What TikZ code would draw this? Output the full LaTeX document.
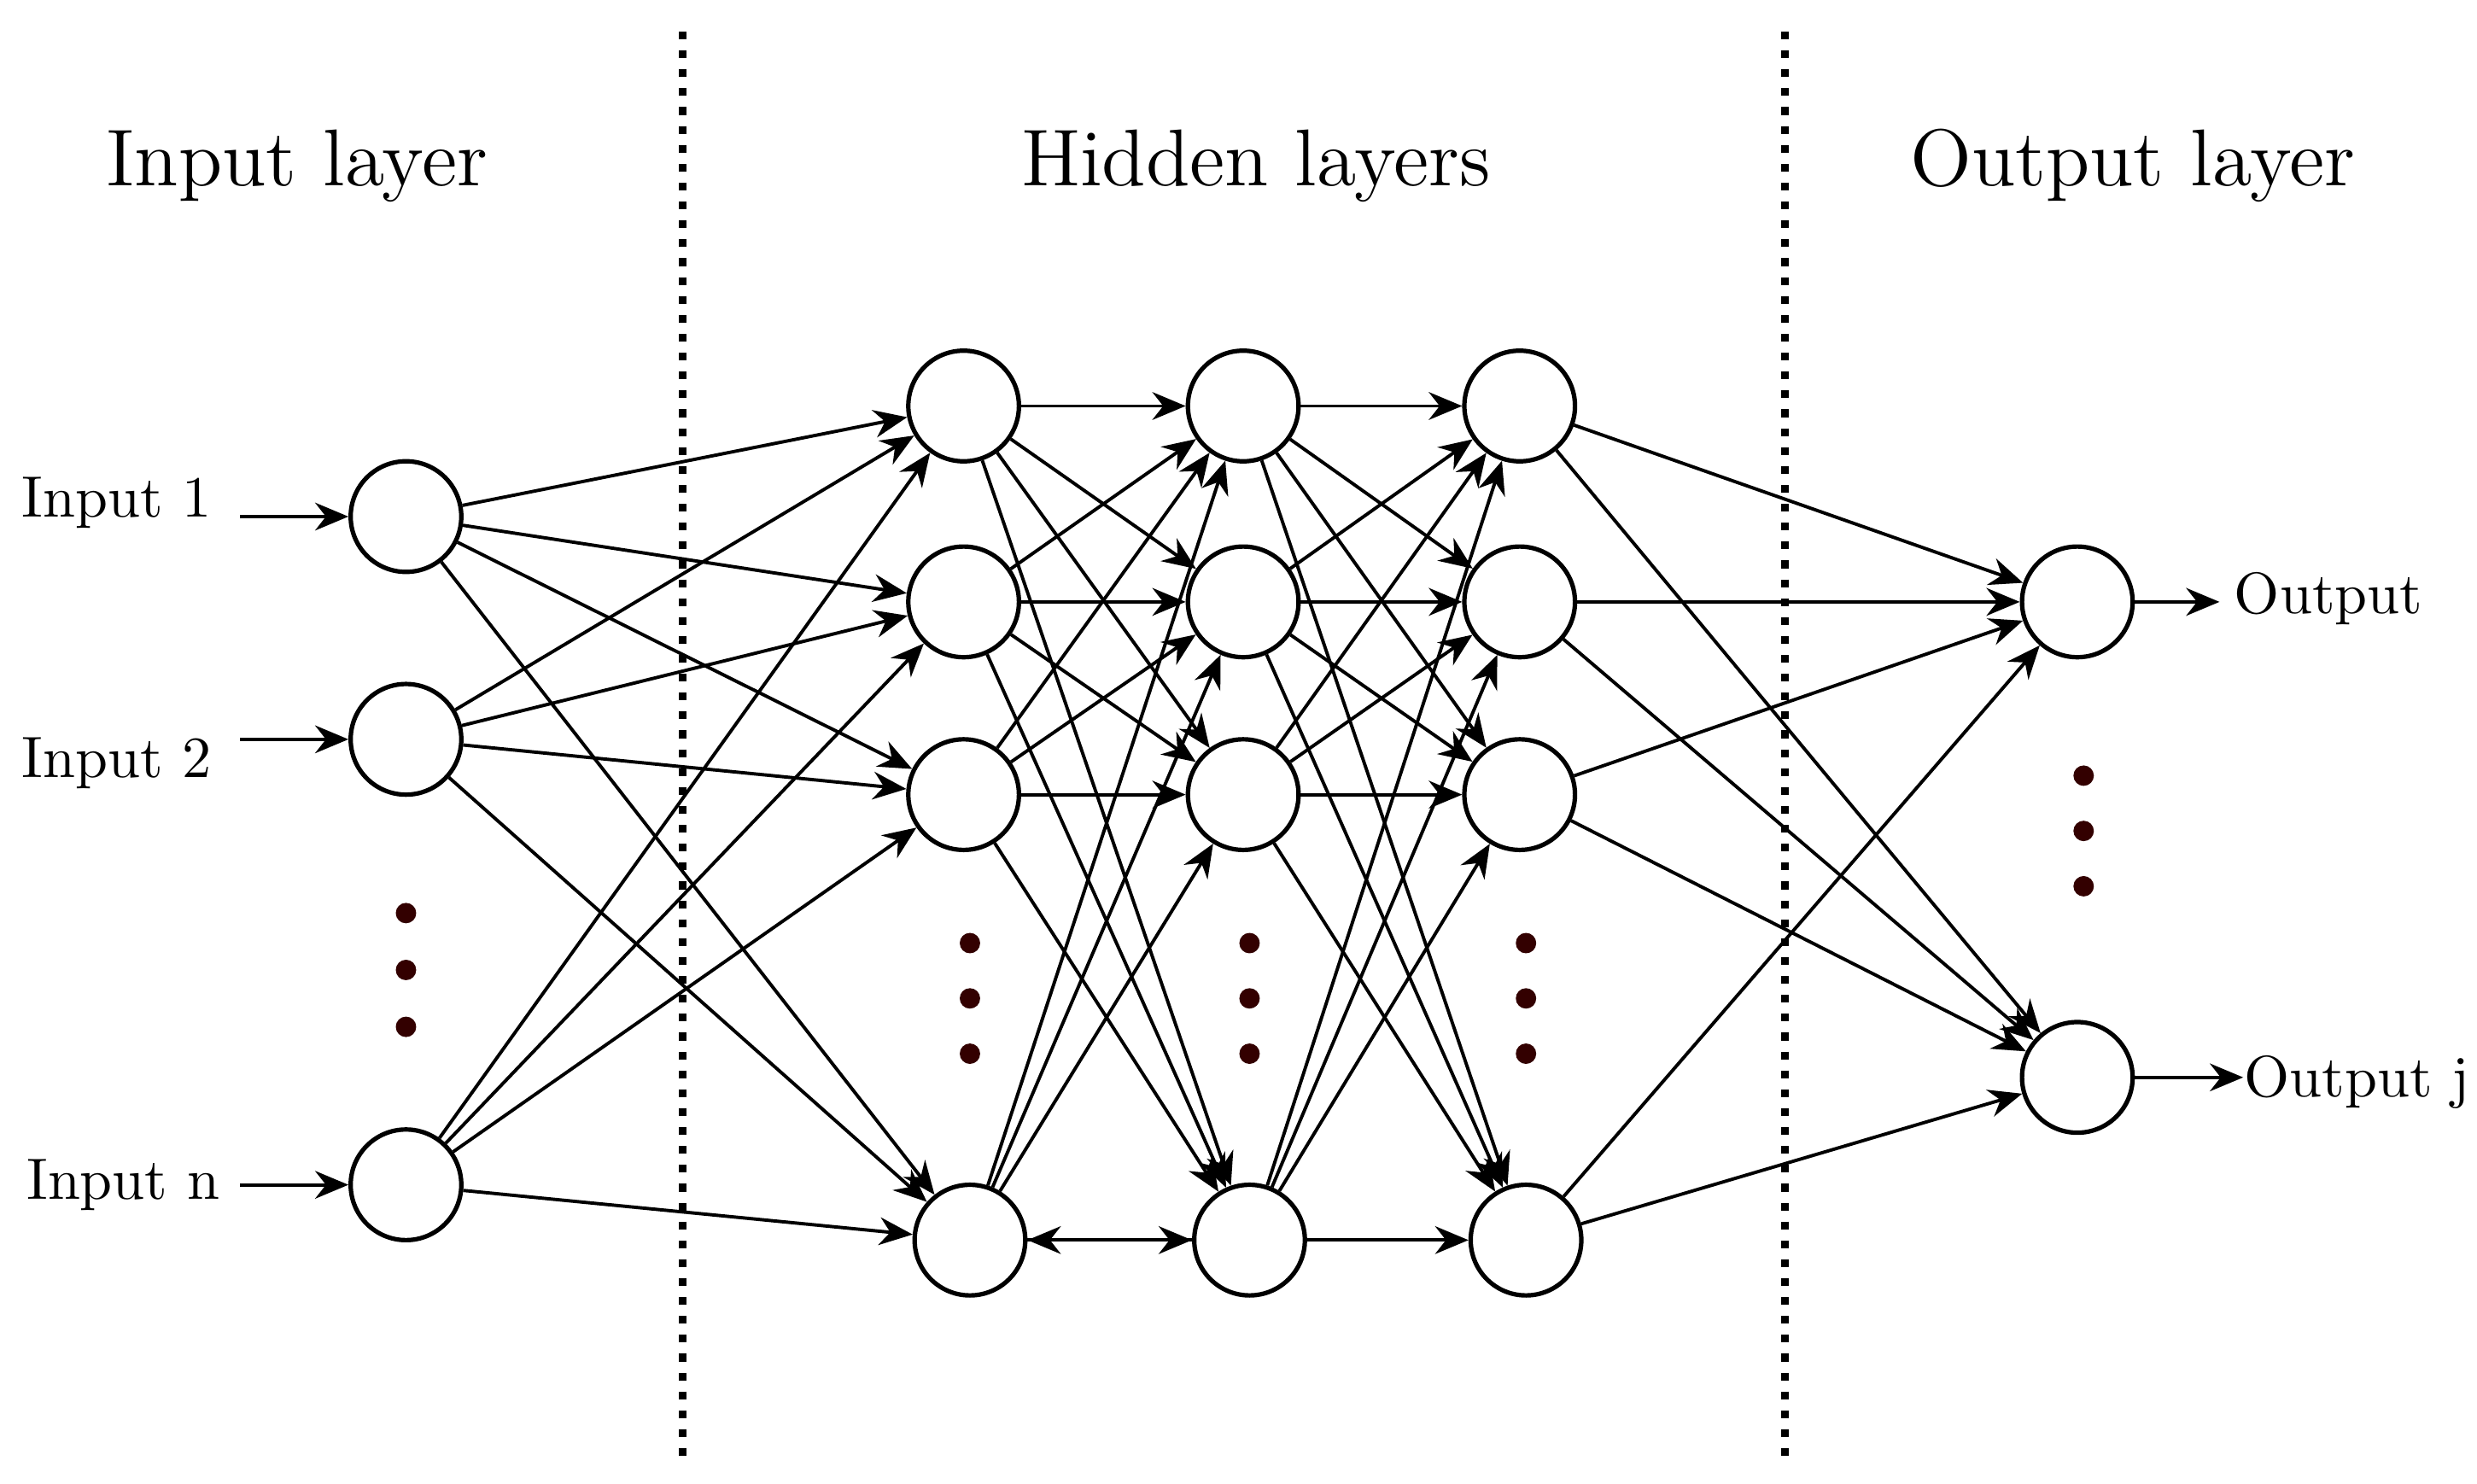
\documentclass[tikz,border=0pt]{standalone}
\usetikzlibrary{arrows.meta,positioning}
\begin{document}
\begin{tikzpicture}[x=0.01cm,y=-0.01cm]
    \tikzset{
        neuron/.style={circle, draw, thick, minimum size=0.7cm, inner sep=0pt},
        link/.style={-{Stealth[length=6pt,width=5pt]}, semithick},
        title/.style={font=\fontsize{14.5}{17}\selectfont},
        label/.style={font=\fontsize{10.5}{12}\selectfont},
        dot/.style={circle, fill=black!80!red, inner sep=1.3pt},
        divider/.style={line width=1.4pt, dotted}
    }
    \useasboundingbox (0,0) rectangle (1568,939);

    % dividers
    \draw[divider] (432,20) -- (432,925);
    \draw[divider] (1130,20) -- (1130,925);

    % titles
    \node[title] (tin) at (188,105) {Input layer};
    \node[title] (thid) at (795,105) {Hidden layers};
    \node[title] (tout) at (1350,105) {Output layer};

    % input layer
    \node[neuron] (i1) at (257,327) {};
    \node[neuron] (i2) at (257,468) {};
    \node[neuron] (i3) at (257,750) {};
    \node[label] (li1) at (74,318) {Input 1};
    \node[label] (li2) at (74,483) {Input 2};
    \node[label] (li3) at (78,750) {Input n};
    \coordinate (si1) at (152,327);
    \coordinate (si2) at (152,468);
    \coordinate (si3) at (152,750);
    \foreach \n in {1,2,3} \draw[link] (si\n) -- (i\n);

    % hidden layers
    \foreach \l/\x in {a/610, b/787, c/962} {
        \node[neuron] (\l1) at (\x,257) {};
        \node[neuron] (\l2) at (\x,381) {};
        \node[neuron] (\l3) at (\x,503) {};
        \node[neuron] (\l4) at ({\x+4},785) {};
        \foreach \y in {597,632,667} \node[dot] at ({\x+4},\y) {};
    }
    \foreach \y in {578,614,650} \node[dot] at (257,\y) {};

    % output layer
    \node[neuron] (o1) at (1315,381) {};
    \node[neuron] (o2) at (1315,682) {};
    \foreach \y in {491,526,561} \node[dot] at (1319,\y) {};
    \node[label] (lo1) at (1474,379) {Output};
    \node[label] (lo2) at (1492,685) {Output j};
    \coordinate (eo1) at (1405,381);
    \coordinate (eo2) at (1420,682);
    \draw[link] (o1) -- (eo1);
    \draw[link] (o2) -- (eo2);

    % connections
    \foreach \i in {1,2,3} \foreach \j in {1,...,4} \draw[link] (i\i) -- (a\j);
    \foreach \i in {1,...,4} \foreach \j in {1,...,4} {
        \draw[link] (a\i) -- (b\j);
        \draw[link] (b\i) -- (c\j);
    }
    \draw[link] (b4) -- (a4);
    \foreach \i in {1,...,4} \foreach \j in {1,2} \draw[link] (c\i) -- (o\j);
\end{tikzpicture}
\end{document}
